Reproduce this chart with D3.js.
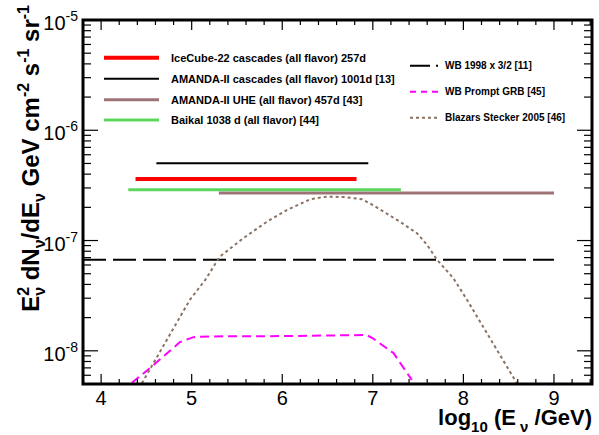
<!DOCTYPE html>
<html>
<head>
<meta charset="utf-8">
<script src="https://cdn.jsdelivr.net/npm/d3@7"></script>
<style>
html,body{margin:0;padding:0;background:#fff;}
svg{display:block;}
text{font-family:"Liberation Sans",Arial,Helvetica,sans-serif;}
</style>
</head>
<body>
<svg id="chart" width="599" height="435"></svg>
<script>
// ---------- data ----------
const xTickValues = [4, 5, 6, 7, 8, 9];
const yDecadeExps = [-5, -6, -7, -8];

const limitNames = [
  "IceCube-22 cascades (all flavor) 257d",
  "AMANDA-II cascades (all flavor) 1001d [13]",
  "AMANDA-II UHE (all flavor) 457d [43]",
  "Baikal 1038 d (all flavor) [44]"
];
const limitLogEmin = [4.38, 4.61, 5.30, 4.30];
const limitLogEmax = [6.82, 6.95, 9.00, 7.31];
const limitFlux    = [3.62e-7, 5.02e-7, 2.70e-7, 2.89e-7];

const modelNames = ["WB 1998 x 3/2 [11]", "WB Prompt GRB [45]", "Blazars Stecker 2005 [46]"];

const wbLogE = [3.8, 9.0];
const wbFlux = [6.7e-8, 6.7e-8];

const grbLogE = [4.34, 4.56, 4.87, 5.02, 5.20, 6.00, 6.93, 7.00, 7.23, 7.43];
const grbFlux = [5.13e-9, 7.2e-9, 1.20e-8, 1.33e-8, 1.35e-8, 1.36e-8, 1.39e-8, 1.30e-8, 9.5e-9, 5.45e-9];

const blzLogE = [4.45, 4.98, 5.15, 5.31, 5.57, 5.83, 6.05, 6.31, 6.49, 6.69, 6.88, 7.00, 7.30, 7.49, 7.60, 7.71, 7.89, 8.04, 8.59];
const blzFlux = [5.08e-9, 2.90e-8, 4.40e-8, 7.14e-8, 1.05e-7, 1.48e-7, 1.89e-7, 2.37e-7, 2.50e-7, 2.48e-7, 2.37e-7, 2.10e-7, 1.48e-7, 1.16e-7, 9.1e-8, 6.67e-8, 4.55e-8, 2.90e-8, 5.08e-9];

// ---------- styles ----------
const limitStyles = [
  {color: "#ff0000", width: 4},
  {color: "#000000", width: 2},
  {color: "#9e7377", width: 3},
  {color: "#5cd65c", width: 3}
];
const modelStyles = [
  {color: "#000000", width: 2, dash: "23,7"},
  {color: "#ff00ff", width: 2, dash: "9,5"},
  {color: "#8a7262", width: 2, dash: "3,3"}
];

// ---------- layout ----------
const L = 83, R = 592, T = 20, B = 384;
const svg = d3.select("#chart");
svg.append("rect").attr("width", 599).attr("height", 435).attr("fill", "#fff");

const x = d3.scaleLinear().domain([3.8, 9.42]).range([L, R]);
const y = d3.scaleLog().domain([5e-9, 1e-5]).range([B, T]);

svg.append("defs").append("clipPath").attr("id", "clip")
  .append("rect").attr("x", L).attr("y", T).attr("width", R - L).attr("height", B - T);

const plot = svg.append("g").attr("clip-path", "url(#clip)");

// limits
limitNames.forEach((n, i) => {
  plot.append("line")
    .attr("x1", x(limitLogEmin[i])).attr("x2", x(limitLogEmax[i]))
    .attr("y1", y(limitFlux[i])).attr("y2", y(limitFlux[i]))
    .attr("stroke", limitStyles[i].color).attr("stroke-width", limitStyles[i].width);
});

const line = d3.line().x(d => x(d[0])).y(d => y(d[1]));
const modelData = [
  d3.zip(wbLogE, wbFlux),
  d3.zip(grbLogE, grbFlux),
  d3.zip(blzLogE, blzFlux)
];
modelData.forEach((d, i) => {
  plot.append("path").attr("d", line(d)).attr("fill", "none")
    .attr("stroke", modelStyles[i].color).attr("stroke-width", modelStyles[i].width)
    .attr("stroke-dasharray", modelStyles[i].dash);
});

// ---------- axes ----------
const axes = svg.append("g").attr("stroke", "#000").attr("stroke-width", 1.2);
// x ticks (bottom & top)
const xMinor = d3.range(3.8, 9.4201, 0.2).map(v => +v.toFixed(2));
xMinor.forEach(v => {
  const major = Math.abs(v - Math.round(v)) < 1e-6;
  const len = major ? 10 : 5;
  axes.append("line").attr("x1", x(v)).attr("x2", x(v)).attr("y1", B).attr("y2", B - len);
  axes.append("line").attr("x1", x(v)).attr("x2", x(v)).attr("y1", T).attr("y2", T + len);
});
// y ticks (left & right)
const yTicks = [];
for (let e = -9; e <= -6; e++) for (let m = 1; m <= 9; m++) {
  const v = m * Math.pow(10, e);
  if (v >= 5e-9 * 0.999 && v <= 1e-5 * 1.001) yTicks.push({v, major: m === 1});
}
yTicks.push({v: 1e-5, major: true});
yTicks.forEach(t => {
  const len = t.major ? 15 : 8;
  axes.append("line").attr("x1", L).attr("x2", L + len).attr("y1", y(t.v)).attr("y2", y(t.v));
  axes.append("line").attr("x1", R).attr("x2", R - len).attr("y1", y(t.v)).attr("y2", y(t.v));
});
// frame
svg.append("rect").attr("x", L).attr("y", T).attr("width", R - L).attr("height", B - T)
  .attr("fill", "none").attr("stroke", "#000").attr("stroke-width", 3);

// tick labels
xTickValues.forEach(v => {
  svg.append("text").attr("x", x(v)).attr("y", 405).attr("text-anchor", "middle")
    .attr("font-size", 20).text(v);
});
yDecadeExps.forEach(e => {
  const t = svg.append("text").attr("x", 78).attr("y", y(Math.pow(10, e)) + 10)
    .attr("text-anchor", "end").attr("font-size", 20);
  t.append("tspan").text("10");
  t.append("tspan").attr("dy", -9).attr("font-size", 14).text(String(e));
});

// axis titles
const xt = svg.append("text").attr("x", 592).attr("y", 425).attr("text-anchor", "end")
  .attr("font-size", 22).attr("font-weight", "bold");
xt.append("tspan").text("log");
xt.append("tspan").attr("dy", 7).attr("font-size", 15).text("10");
xt.append("tspan").attr("dy", -7).text(" (E");
xt.append("tspan").attr("dy", 7).attr("font-size", 15).text(" ν");
xt.append("tspan").attr("dy", -7).text(" /GeV)");

const yt = svg.append("text").attr("transform", "translate(39,5) rotate(-90)")
  .attr("text-anchor", "end").attr("font-size", 24).attr("font-weight", "bold");
yt.append("tspan").text("E");
yt.append("tspan").attr("dy", -10).attr("font-size", 16).text("2");
yt.append("tspan").attr("dx", -9).attr("dy", 16).attr("font-size", 16).text("ν");
yt.append("tspan").attr("dy", -6).text(" dN");
yt.append("tspan").attr("dy", 6).attr("font-size", 16).text("ν");
yt.append("tspan").attr("dy", -6).text("/dE");
yt.append("tspan").attr("dy", 6).attr("font-size", 16).text("ν");
yt.append("tspan").attr("dy", -6).text(" GeV cm");
yt.append("tspan").attr("dy", -10).attr("font-size", 16).text("-2");
yt.append("tspan").attr("dy", 10).text(" s");
yt.append("tspan").attr("dy", -10).attr("font-size", 16).text("-1");
yt.append("tspan").attr("dy", 10).text(" sr");
yt.append("tspan").attr("dy", -10).attr("font-size", 16).text("-1");

// ---------- legends ----------
const leftRows = [57.7, 78.7, 99.7, 120];
limitNames.forEach((n, i) => {
  svg.append("line").attr("x1", 104).attr("x2", 159).attr("y1", leftRows[i]).attr("y2", leftRows[i])
    .attr("stroke", limitStyles[i].color).attr("stroke-width", limitStyles[i].width);
  svg.append("text").attr("x", 171).attr("y", leftRows[i] + 4).attr("font-size", 11)
    .attr("font-weight", "bold").text(n);
});
const rightRows = [65.7, 91.7, 117.7];
modelNames.forEach((n, i) => {
  svg.append("line").attr("x1", 410).attr("x2", 438).attr("y1", rightRows[i]).attr("y2", rightRows[i])
    .attr("stroke", modelStyles[i].color).attr("stroke-width", modelStyles[i].width)
    .attr("stroke-dasharray", i === 0 ? "20,6" : (i === 1 ? "6,5" : "3,3"));
  svg.append("text").attr("x", 445).attr("y", rightRows[i] + 3.5).attr("font-size", 10)
    .attr("font-weight", "bold").text(n);
});
</script>
</body>
</html>
